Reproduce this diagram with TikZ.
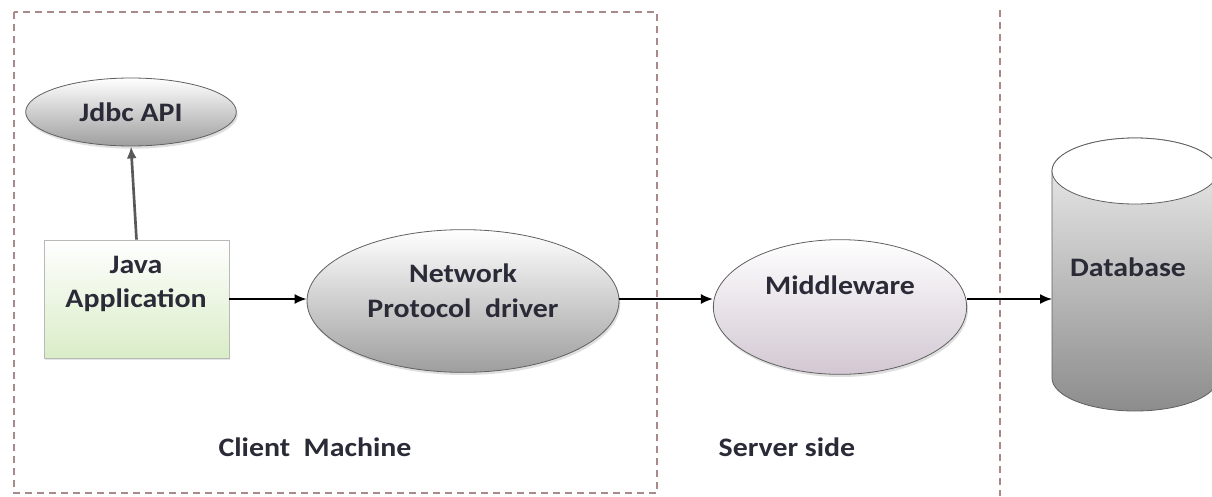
\documentclass[tikz,border=0pt]{standalone}
\usepackage{fontspec}
\setmainfont[FakeStretch=1.12]{Carlito}
\usetikzlibrary{arrows.meta,shadows,shapes.geometric}
\definecolor{txt}{HTML}{2B2B38}
\definecolor{dashc}{HTML}{A88A8A}
\tikzset{
  lbl/.style={font=\bfseries\fontsize{20}{26}\selectfont, text=txt, align=center, inner sep=0pt},
  ell/.style={ellipse, draw=gray!75!black, line width=0.6pt, inner sep=0pt,
              drop shadow={opacity=0.25, shadow xshift=1pt, shadow yshift=-2pt}},
  grayell/.style={ell, top color=white, bottom color=black!38},
  conn/.style={line width=1.3pt, -{Latex[length=9pt,width=7.5pt]}},
  region/.style={draw=dashc, line width=1.2pt, dash pattern=on 5pt off 4pt},
}
\begin{document}
\begin{tikzpicture}[x=0.75pt,y=-0.75pt]
\useasboundingbox (0,0) rectangle (1212,496);
\clip (0,0) rectangle (1212,496);
\fill[white] (0,0) rectangle (1212,496);
% regions
\draw[region] (14,12) rectangle (657,493);
\draw[region] (1000,10) -- (1000,496);
% nodes
\node[grayell, minimum width=158pt, minimum height=51pt] (jdbc) at (131,112) {};
\node[lbl] at (jdbc.center) {Jdbc API};
\node[draw=gray!55, line width=0.6pt, top color=white, bottom color=green!35!olive!22!white,
      minimum width=138.75pt, minimum height=88.5pt, inner sep=0pt,
      drop shadow={opacity=0.2, shadow xshift=1pt, shadow yshift=-1.5pt}] (japp) at (136.5,299) {};
\node[lbl] at (136,284) {Java\\Application};
\node[grayell, minimum width=234pt, minimum height=107pt] (npd) at (463,301) {};
\node[lbl] at (463,291) {Network\\Protocol\ \ driver};
\node[ell, top color=white, bottom color=violet!25!gray!35!white, minimum width=190pt, minimum height=101pt] (mw) at (840,307) {};
\node[lbl] at (840,285) {Middleware};
% database cylinder
\coordinate (db) at (1052,299);
\draw[gray!75!black, line width=0.6pt, top color=black!6, bottom color=black!45]
  (1052,171) -- (1052,378) arc[start angle=180, end angle=0, x radius=83, y radius=33]
  -- (1218,171) arc[start angle=360, end angle=180, x radius=83, y radius=33] -- cycle;
\draw[gray!75!black, line width=0.6pt, fill=white] (1135,171) ellipse[x radius=83, y radius=33];
\node[lbl] at (1128,267) {Database};
% connectors
\draw[conn, draw=black!65, line width=2pt] (japp.north) -- (jdbc.south);
\draw[conn] (japp.east |- 0,299) -- (npd.west |- 0,299);
\draw[conn] (npd.east |- 0,299) -- (mw.west |- 0,299);
\draw[conn] (mw.east |- 0,299) -- (db);
% region labels
\node[lbl] at (315,447) {Client\ \ Machine};
\node[lbl] at (787,447) {Server side};
\end{tikzpicture}
\end{document}
